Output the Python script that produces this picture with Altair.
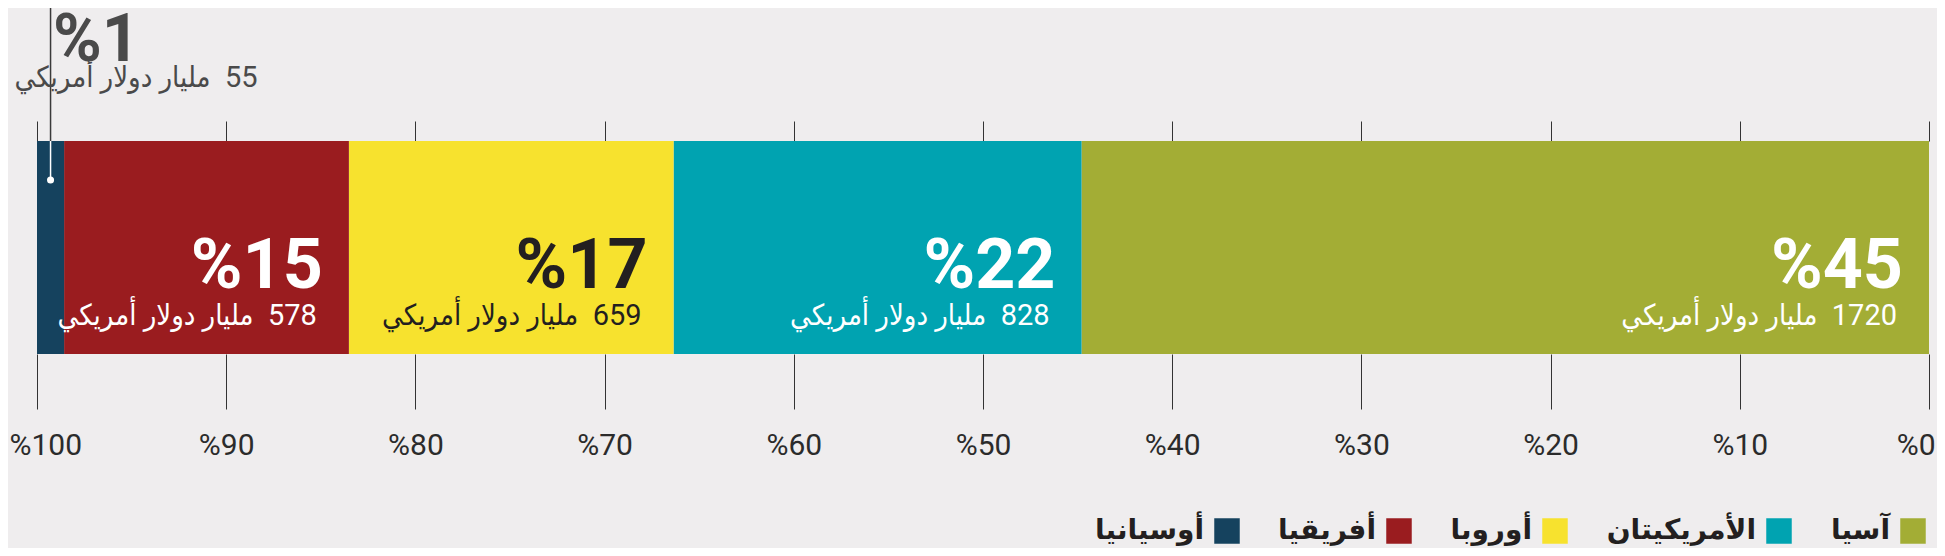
import altair as alt
import pandas as pd

# ---- data ----
regions = ["آسيا", "الأمريكيتان", "أوروبا", "أفريقيا", "أوسيانيا"]
values = [1720, 828, 659, 578, 55]          # billion US dollars
colors = ["#A3AD35", "#00A3B1", "#F7E22E", "#9A1C1F", "#15425E"]
tick_values = [0, 10, 20, 30, 40, 50, 60, 70, 80, 90, 100]
unit_text = "مليار دولار أمريكي"
outside_region = "أوسيانيا"
dark_text_region = "أوروبا"

total = sum(values)
df = pd.DataFrame({"region": regions, "value": values})
df["pct"] = df["value"] / total * 100
df["end"] = df["pct"].cumsum()
df["start"] = df["end"] - df["pct"]
df["mid"] = (df["start"] + df["end"]) / 2
df["pct_label"] = "%" + df["pct"].round().astype(int).astype(str)
df["amount_label"] = "\u202B" + df["value"].astype(str) + "\u00A0\u00A0" + unit_text + "\u202C"

legend_order = regions[::-1]
legend_colors = colors[::-1]

W, H = 1892, 213
x_scale = alt.Scale(domain=[0, 100], reverse=True, nice=False)
base = alt.Chart(df)
sub_font = "Roboto, 'DejaVu Sans Condensed', 'DejaVu Sans'"

label_align = {"condition": [{"test": "datum.value == 100", "value": "left"},
                             {"test": "datum.value == 0", "value": "right"}],
               "value": "center"}
label_offset = {"condition": [{"test": "datum.value == 100", "value": -28},
                              {"test": "datum.value == 0", "value": 6}],
                "value": 0}

bars = base.mark_bar().encode(
    x=alt.X("start:Q", scale=x_scale,
            axis=alt.Axis(orient="bottom", values=tick_values, tickSize=55, tickColor="#333333",
                          tickWidth=1, domain=False, grid=False, title=None, labelFlush=False,
                          labelAlign=label_align, labelOffset=label_offset,
                          labelExpr="'%' + datum.value", labelFont="Roboto", labelFontSize=30,
                          labelPadding=21, labelColor="#2b2b2b")),
    x2="end:Q",
    y=alt.value(0),
    y2=alt.value("height"),
    color=alt.Color("region:N",
                    scale=alt.Scale(domain=legend_order, range=legend_colors),
                    legend=alt.Legend(orient="none", legendX=1176, legendY=376,
                                      direction="horizontal", columns=5, title=None,
                                      symbolType="square", symbolSize=650, symbolStrokeWidth=0,
                                      symbolOpacity=1, labelAlign="right",
                                      labelOffset={"expr": "-37"},
                                      labelFont="DejaVu Sans", labelFontWeight="bold",
                                      labelFontSize=28, labelColor="#231F20", labelLimit=400,
                                      columnPadding=38)),
)

outside = base.transform_filter(alt.datum.region == outside_region)
inside = base.transform_filter(alt.datum.region != outside_region)

leader_top = outside.mark_rule(color="#3a3a3a", strokeWidth=1.5).encode(
    x=alt.X("mid:Q", scale=x_scale,
            axis=alt.Axis(orient="top", values=tick_values, tickSize=20, tickColor="#333333",
                          tickWidth=1, domain=False, grid=False, labels=False, title=None)),
    y=alt.value(-141), y2=alt.value(0),
)
leader_in = outside.mark_rule(color="white", strokeWidth=1.5).encode(
    x=alt.X("mid:Q", scale=x_scale, axis=None), y=alt.value(0), y2=alt.value(39),
)
leader_dot = outside.mark_circle(color="white", opacity=1, size=50).encode(
    x=alt.X("mid:Q", scale=x_scale, axis=None), y=alt.value(39),
)

text_color = alt.condition(alt.datum.region == dark_text_region,
                           alt.value("#231F20"), alt.value("white"))

big = inside.mark_text(align="right", baseline="alphabetic", dx=-26, font="Roboto",
                       fontWeight="bold", fontSize=70).encode(
    x=alt.X("start:Q", scale=x_scale, axis=None), y=alt.value(147),
    text="pct_label:N", color=text_color,
)
sub = inside.mark_text(align="right", baseline="alphabetic", dx=-32, font=sub_font,
                       fontWeight="normal", fontSize=29).encode(
    x=alt.X("start:Q", scale=x_scale, axis=None), y=alt.value(184),
    text="amount_label:N", color=text_color,
)
big_out = outside.mark_text(align="right", baseline="alphabetic", dx=89, font="Roboto",
                            fontWeight="bold", fontSize=66, color="#4a4a4a").encode(
    x=alt.X("mid:Q", scale=x_scale, axis=None), y=alt.value(-80), text="pct_label:N",
)
sub_out = outside.mark_text(align="right", baseline="alphabetic", dx=207, font=sub_font,
                            fontWeight="normal", fontSize=29, color="#4a4a4a").encode(
    x=alt.X("mid:Q", scale=x_scale, axis=None), y=alt.value(-54), text="amount_label:N",
)

chart = alt.layer(bars, leader_top, leader_in, leader_dot, big, sub, big_out, sub_out).resolve_axis(
    x="independent"
).properties(
    width=W, height=H,
    padding={"left": 29, "right": 8, "top": 133, "bottom": 194},
    autosize=alt.AutoSizeParams(type="none"),
    background="#EFEDEE",
).configure_view(stroke=None)

chart.save("out.html", embed_options={"renderer": "svg", "actions": False})
